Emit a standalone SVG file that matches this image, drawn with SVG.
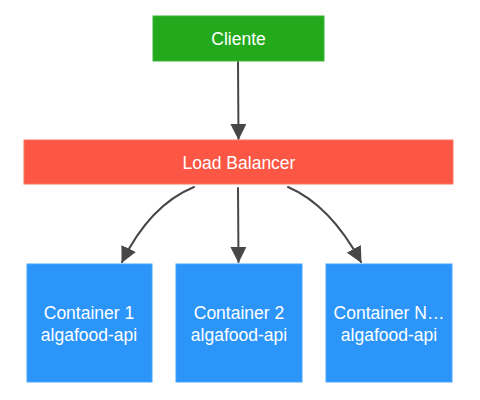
<svg xmlns="http://www.w3.org/2000/svg" width="480" height="400" viewBox="0 0 480 400">
<style>
.lbl{font-family:"Liberation Sans",Arial,sans-serif;font-size:17.5px;fill:#ffffff;text-anchor:middle}
.con{fill:none;stroke:#474747;stroke-width:2;stroke-linecap:round}
</style>
<defs>
<marker id="ah" viewBox="0 0 16 16" refX="15" refY="8" markerWidth="16" markerHeight="16" markerUnits="userSpaceOnUse" orient="auto">
<path d="M0,0 L16,8 L0,16 Z" fill="#474747"/>
</marker>
</defs>
<rect width="480" height="400" fill="#ffffff"/>
<g id="connectors">
<path class="con" d="M238,62 L238.5,139" marker-end="url(#ah)"/>
<path class="con" d="M194,187 Q150,205 122,262" marker-end="url(#ah)"/>
<path class="con" d="M238,188 L238.5,262" marker-end="url(#ah)"/>
<path class="con" d="M288,187 Q330,205 361,262" marker-end="url(#ah)"/>
</g>
<g id="cliente">
<rect x="153" y="16" width="171" height="45" fill="#23a91c" stroke="#3cb436" stroke-width="1"/>
<text class="lbl" x="238.5" y="45">Cliente</text>
</g>
<g id="load-balancer">
<rect x="24" y="140" width="429" height="44" fill="#fb5744" stroke="#fc7463" stroke-width="1"/>
<text class="lbl" x="239" y="169">Load Balancer</text>
</g>
<g id="container1">
<rect x="27" y="264" width="125" height="118" fill="#2b95fa" stroke="#4aa5fb" stroke-width="1"/>
<text class="lbl" x="89" y="319">Container 1</text>
<text class="lbl" x="89" y="341">algafood-api</text>
</g>
<g id="container2">
<rect x="176" y="264" width="126" height="118" fill="#2b95fa" stroke="#4aa5fb" stroke-width="1"/>
<text class="lbl" x="239" y="319">Container 2</text>
<text class="lbl" x="239" y="341">algafood-api</text>
</g>
<g id="containerN">
<rect x="326" y="264" width="126" height="118" fill="#2b95fa" stroke="#4aa5fb" stroke-width="1"/>
<text class="lbl" x="389" y="319">Container N…</text>
<text class="lbl" x="389" y="341">algafood-api</text>
</g>
</svg>
